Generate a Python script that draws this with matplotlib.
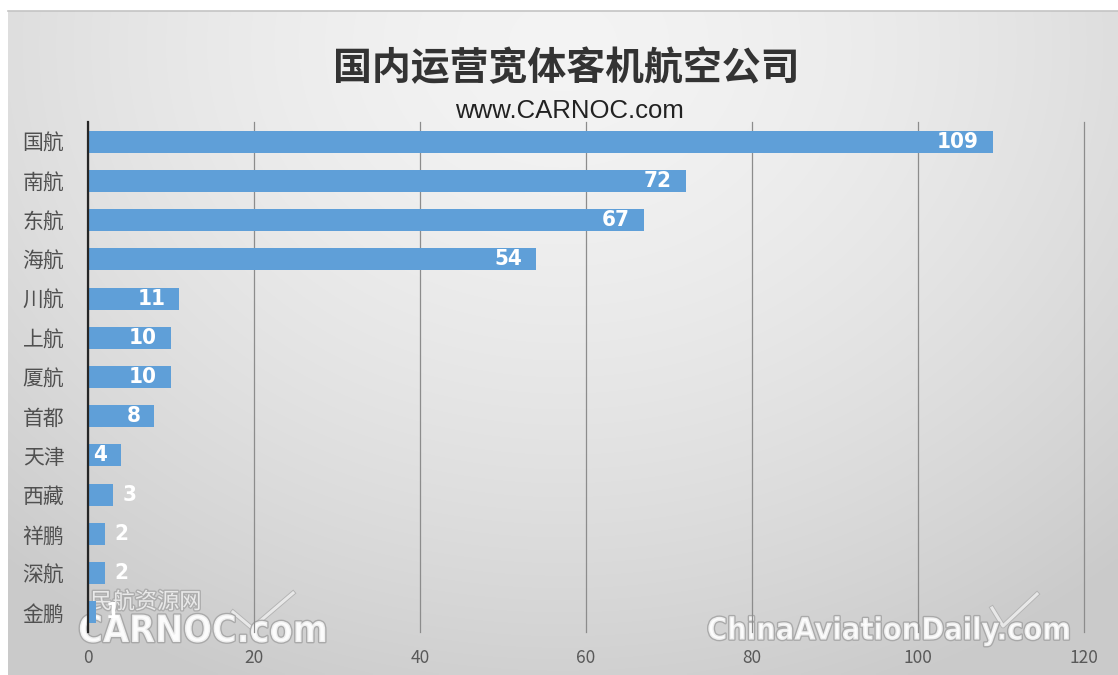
#!/usr/bin/env python3

import numpy as np
import matplotlib
matplotlib.use("Agg")
import matplotlib.pyplot as plt
import matplotlib.patheffects as pe

# Data ===============================================================
airlines = ["国航", "南航", "东航", "海航", "川航", "上航", "厦航",
            "首都", "天津", "西藏", "祥鹏", "深航", "金鹏"]
widebody_count = [109, 72, 67, 54, 11, 10, 10, 8, 4, 3, 2, 2, 1]
x_ticks = [0, 20, 40, 60, 80, 100, 120]

title_txt = "国内运营宽体客机航空公司"
subtitle_txt = "www.CARNOC.com"

plt.rcParams['font.family'] = ['Noto Sans CJK SC', 'DejaVu Sans']


# Background gradient ================================================
def draw_background(fig):
    W, H = 1118, 675
    bg = fig.add_axes([8/W, 0, 1-8/W, 1-11/H], zorder=-10)
    ny, nx = 200, 330
    yy, xx = np.mgrid[0:1:ny*1j, 0:1:nx*1j]
    # light in the upper middle, darker toward the bottom and the edges
    r = np.sqrt(((xx-0.5)/0.75)**2 + ((yy-0.05)/1.05)**2)
    shade = 0.955 - 0.16*np.clip(r, 0, 1)**1.6
    img = np.dstack([shade, shade, shade])
    bg.imshow(img, aspect='auto', extent=[0, 1, 1, 0], interpolation='bilinear')
    bg.set_axis_off()
    # thin border along the top of the chart area
    fig.add_artist(plt.Line2D([8/W, 1], [1-11/H, 1-11/H], color='#c4c4c4', lw=1.2))


# Watermarks (behind the plot, above the background) =================
def draw_watermarks(fig):
    W, H = 1118, 675
    zw = -5
    stroke = [pe.withStroke(linewidth=2.0, foreground='#a0a0a0')]
    narrow = dict(family=['DejaVu Sans', 'Noto Sans CJK SC'], fontstretch='condensed',
                  fontweight='bold', color='white', alpha=0.8,
                  ha='center', va='center', path_effects=stroke, zorder=zw)
    fig.text(146/W, 1-602/H, "民航资源网", fontsize=16, color='white', alpha=0.7,
             ha='center', va='center', path_effects=stroke, zorder=zw)
    fig.text(203/W, 1-632/H, "CARNOC.com", fontsize=27, **narrow)
    fig.text(888/W, 1-631/H, "ChinaAviationDaily.com", fontsize=22, **narrow)
    # little plane marks next to the names
    plane = [pe.withStroke(linewidth=3.5, foreground='#b4b4b4')]
    for xs, ys in [([233, 252, 293], [612, 628, 593]), ([992, 1003, 1037], [608, 626, 594])]:
        fig.add_artist(plt.Line2D([x/W for x in xs], [1-v/H for v in ys], color='white',
                                  lw=2.2, alpha=0.7, zorder=zw, path_effects=plane))


# Main ===============================================================
def main():
    W, H = 1118, 675
    fig = plt.figure(figsize=(W/100, H/100), dpi=100)
    fig.patch.set_facecolor('white')
    draw_background(fig)
    draw_watermarks(fig)

    ax = fig.add_axes([88/W, 1-632/H, (1084-88)/W, (632-122)/H])
    ax.patch.set_alpha(0)

    y = np.arange(len(airlines))
    ax.barh(y, widebody_count, height=0.56, color='#5F9FD8', zorder=3)

    ax.set_xlim(0, 120)
    ax.set_ylim(len(airlines)-0.5, -0.5)
    ax.set_xticks(x_ticks)
    ax.set_xticklabels([str(v) for v in x_ticks], fontsize=12.5, color='#595959')
    ax.set_yticks(y)
    ax.set_yticklabels(airlines, fontsize=15, color='#505050')
    ax.tick_params(axis='x', length=0, pad=12)
    ax.tick_params(axis='y', length=0, pad=17)

    ax.grid(axis='x', color='#8c8c8c', linewidth=0.9, zorder=1)
    ax.grid(axis='y', visible=False)
    for gl in ax.get_xgridlines():
        gl.set_clip_on(False)
    for s in ['top', 'right', 'bottom']:
        ax.spines[s].set_visible(False)
    ax.spines['left'].set_color('#262626')
    ax.spines['left'].set_linewidth(1.6)
    ax.spines['left'].set_zorder(5)

    # Value labels: inside end for long bars, just outside for short ones
    lbl = dict(va='center', color='white', fontsize=16, fontweight='bold',
               family=['DejaVu Sans'], fontstretch='condensed', zorder=6)
    for yi, v in zip(y, widebody_count):
        if v >= 4:
            ax.annotate(str(v), (v, yi), xytext=(-10, 0), textcoords='offset points',
                        ha='right', **lbl)
        else:
            ax.annotate(str(v), (v, yi), xytext=(7, 0), textcoords='offset points',
                        ha='left', **lbl)

    fig.text(566/W, 1-69/H, title_txt, fontsize=28, fontweight='bold', color='#333333',
             ha='center', va='center')
    fig.text(569/W, 1-111/H, subtitle_txt, fontsize=18.5, color='#222222',
             family=['Liberation Sans', 'DejaVu Sans'], ha='center', va='center')

    fig.savefig('out.png', dpi=100)
    plt.close('all')


if __name__ == '__main__':
    main()
